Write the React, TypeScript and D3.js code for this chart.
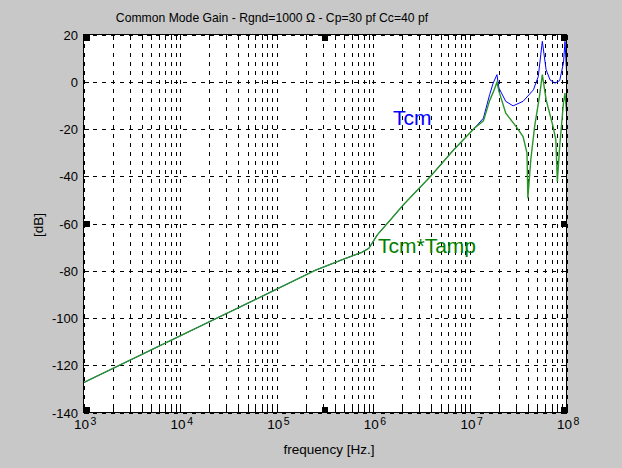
import React from "react";
import * as d3 from "d3";

// ---- data ----
const tcmFreq = [1e3, 1e4, 1e5, 2.5e5, 5e5, 7.6e5, 9e5, 1.1e6, 1.5e6, 2.05e6, 3.9e6, 6.8e6, 1.12e7, 1.38e7, 1.6e7, 1.74e7, 1.905e7, 2.0e7, 2.35e7, 2.8e7, 3.55e7, 4.55e7, 5.1e7, 5.62e7, 6.15e7, 6.75e7, 7.6e7, 8.5e7, 9.3e7, 9.65e7, 1e8];
const tcmDb = [-127.4, -107.6, -87.8, -79.8, -75, -72.2, -70.5, -64.8, -58.5, -52.1, -40.1, -28.8, -19.6, -15.4, -5.5, -0.6, 3, -2.7, -8.3, -10.2, -8.3, -3.4, 2.2, 17.1, 5.1, 0.8, -0.6, 0.5, 7.9, 17.1, 4.4];

const ampFreq = [1e3, 1e4, 1e5, 2.5e5, 5e5, 7.6e5, 9e5, 1.1e6, 1.5e6, 2.05e6, 3.9e6, 6.8e6, 1.12e7, 1.38e7, 1.6e7, 1.74e7, 1.905e7, 2.0e7, 2.35e7, 3.0e7, 3.55e7, 3.9e7, 3.98e7, 4.27e7, 4.68e7, 5.25e7, 5.62e7, 6.15e7, 7.25e7, 7.76e7, 8.04e7, 8.5e7, 9.3e7, 9.65e7, 1e8];
const ampDb = [-127.4, -107.6, -87.8, -79.8, -75, -72.2, -70.5, -64.8, -58.5, -52.1, -40.1, -28.8, -19.6, -16.5, -8, -4.5, -0.3, -4.1, -13.3, -18.9, -23.2, -30.2, -49.3, -33, -18.9, -6.2, 3, -7.6, -18.9, -24.6, -42.2, -27.4, -9, -4.8, -12.6];

const yTicks = [20, 0, -20, -40, -60, -80, -100, -120, -140];
const xDecades = [3, 4, 5, 6, 7, 8];
const minorMult = [1, 2, 3, 4, 5, 6, 7, 8, 9];

const titleText = "Common Mode Gain - Rgnd=1000 \u03A9 - Cp=30 pf Cc=40 pf";
const xLabel = "frequency [Hz.]";
const yLabel = "[dB]";
const tcmLabel = "Tcm";
const ampLabel = "Tcm*Tamp";

const W = 622;
const H = 468;
const FONT = "'Liberation Sans', Arial, Helvetica, sans-serif";

export default function App() {
  const left = 83.5, right = 566.5, top = 34.5, bottom = 412.5;
  const x = d3.scaleLog().domain([1e3, 1e8]).range([left, right]);
  const y = d3.scaleLinear().domain([-140, 20]).range([bottom, top]);

  const line = d3
    .line<[number, number]>()
    .x((d) => x(d[0]))
    .y((d) => y(d[1]));

  const tcm = tcmFreq.map((f, i) => [f, tcmDb[i]] as [number, number]);
  const amp = ampFreq.map((f, i) => [f, ampDb[i]] as [number, number]);

  const gridX: number[] = [];
  xDecades.slice(0, -1).forEach((k) =>
    minorMult.forEach((m) => gridX.push(m * Math.pow(10, k)))
  );
  gridX.push(1e8);

  const handles = [
    [left, top], [(left + right) / 2, top], [right, top],
    [left, (top + bottom) / 2], [right, (top + bottom) / 2],
    [left, bottom], [(left + right) / 2, bottom], [right, bottom],
  ];

  return (
    <div style={{ position: "fixed", left: 0, top: 0 }}>
      <svg width={W} height={H} style={{ display: "block" }} fontFamily={FONT}>
        <rect x={0} y={0} width={W} height={H} fill="#c8c8c8" />
        <rect x={left} y={top} width={right - left} height={bottom - top} fill="#ffffff" />

        {/* grid */}
        <g stroke="#000" strokeWidth={1} strokeDasharray="4,5" shapeRendering="crispEdges">
          {gridX.map((f, i) => {
            const px = Math.round(x(f)) + 0.5;
            return <line key={"gx" + i} x1={px} x2={px} y1={top} y2={bottom} />;
          })}
          {yTicks.map((t, i) => {
            const py = Math.round(y(t)) + 0.5;
            return <line key={"gy" + i} x1={left} x2={right} y1={py} y2={py} />;
          })}
        </g>

        {/* ticks */}
        <g stroke="#000" strokeWidth={1} shapeRendering="crispEdges">
          {gridX.map((f, i) => {
            const px = Math.round(x(f)) + 0.5;
            return (
              <g key={"tx" + i}>
                <line x1={px} x2={px} y1={top} y2={top + 5} />
                <line x1={px} x2={px} y1={bottom} y2={bottom - 5} />
              </g>
            );
          })}
          {yTicks.map((t, i) => {
            const py = Math.round(y(t)) + 0.5;
            return (
              <g key={"ty" + i}>
                <line x1={left} x2={left + 5} y1={py} y2={py} />
                <line x1={right} x2={right - 5} y1={py} y2={py} />
              </g>
            );
          })}
        </g>

        {/* curves */}
        <path d={line(tcm) || ""} fill="none" stroke="#0000ff" strokeWidth={1} />
        <path d={line(amp) || ""} fill="none" stroke="#2a962a" strokeWidth={1.4} />

        {/* frame */}
        <rect x={left} y={top} width={right - left} height={bottom - top} fill="none" stroke="#000" strokeWidth={1} shapeRendering="crispEdges" />

        {/* selection handles */}
        {handles.map((h, i) => {
          const hx = Math.min(Math.max(h[0] - 3, left), right - 6);
          const hy = Math.min(Math.max(h[1] - 3, top), bottom - 6);
          return <rect key={"h" + i} x={hx} y={hy} width={6} height={6} fill="#000" shapeRendering="crispEdges" />;
        })}

        {/* y tick labels */}
        {yTicks.map((t, i) => (
          <text key={"yl" + i} x={78} y={y(t) + 5} textAnchor="end" fontSize={13} fill="#000">
            {t}
          </text>
        ))}

        {/* x tick labels */}
        {xDecades.map((k, i) => {
          const px = x(Math.pow(10, k));
          return (
            <text key={"xl" + i} x={px - 9.5} y={429} fontSize={13.5} fill="#000">
              10
              <tspan dx={1.5} dy={-4.5} fontSize={10.5}>{k}</tspan>
            </text>
          );
        })}

        {/* labels */}
        <text x={272} y={22} textAnchor="middle" fontSize={12.2} fill="#000">{titleText}</text>
        <text x={329} y={454} textAnchor="middle" fontSize={13.5} fill="#000">{xLabel}</text>
        <text transform={`translate(43,225) rotate(-90)`} textAnchor="middle" fontSize={13.5} fill="#000">{yLabel}</text>

        <text x={393} y={125} fontSize={21} fill="#0000ff">{tcmLabel}</text>
        <text x={378} y={253} fontSize={21} fill="#008000">{ampLabel}</text>
      </svg>
    </div>
  );
}
